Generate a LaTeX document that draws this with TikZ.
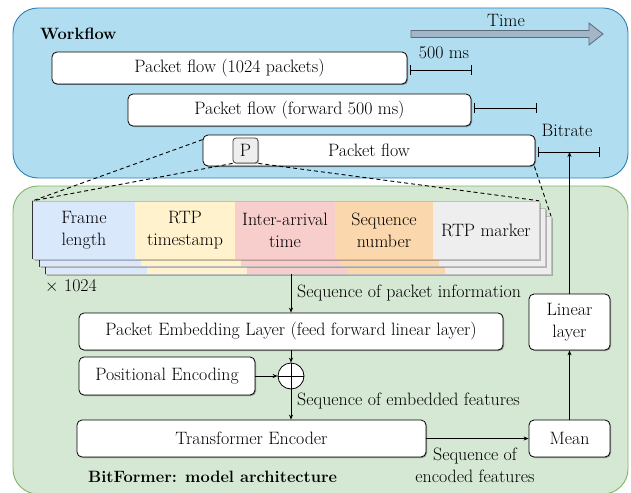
\documentclass[tikz,border=0pt]{standalone}
\usepackage{fontspec}
\usetikzlibrary{arrows.meta,shadows,calc}
\definecolor{bluebg}{HTML}{B1DDF0}
\definecolor{blueline}{HTML}{2D7FB8}
\definecolor{greenbg}{HTML}{D5E8D4}
\definecolor{greenline}{HTML}{82B366}
\definecolor{cA}{HTML}{DAE8FC}
\definecolor{cB}{HTML}{FFF2CC}
\definecolor{cC}{HTML}{F8CECC}
\definecolor{cD}{HTML}{FAD7AC}
\definecolor{cE}{HTML}{EEEEEE}
\definecolor{timefill}{HTML}{A3B6C7}
\definecolor{timeline}{HTML}{5A6B7B}
\newcommand\mainfs{\fontsize{17.9}{22}\selectfont}
\newcommand\boldfs{\fontsize{16.4}{22}\selectfont\bfseries}
\tikzset{
  wbox/.style={draw=black, fill=white, rounded corners=5pt, line width=0.8pt,
    inner sep=0pt, align=center,
    drop shadow={shadow xshift=1pt, shadow yshift=-1pt, opacity=0.35, fill=black}},
  pbox/.style={draw=black!75, fill=cE, rounded corners=3pt, line width=0.8pt,
    inner sep=0pt, minimum width=25pt, minimum height=25pt,
    drop shadow={shadow xshift=1pt, shadow yshift=-1pt, opacity=0.3, fill=black}},
  cell/.style={inner sep=0pt, align=center, minimum height=58pt},
  lbl/.style={inner sep=0pt, align=center},
  conn/.style={line width=0.8pt, -{Stealth[length=5pt,width=4pt]}},
  zoomline/.style={line width=0.9pt, dash pattern=on 4pt off 3pt},
  interval/.style={line width=0.9pt, {Bar[width=10pt]}-{Bar[width=10pt]}},
}
\begin{document}
\begin{tikzpicture}[x=1pt,y=-1pt,font=\mainfs]
\useasboundingbox (0,0) rectangle (631,492);
\begin{scope}
\clip (0,0) rectangle (631,492);
% panels
\draw[fill=bluebg, draw=blueline, line width=0.9pt, rounded corners=25pt] (13,8) rectangle (628,178);
\draw[fill=greenbg, draw=greenline, line width=0.9pt, rounded corners=25pt] (13,186) rectangle (628,494);
\end{scope}

% workflow part
\node[lbl, anchor=west, font=\boldfs] (wf) at (40,34) {Workflow};
\draw[fill=timefill, draw=timeline, line width=0.8pt]
  (411,30.5) -- (589,30.5) -- (589,23) -- (603,34) -- (589,45) -- (589,37.5) -- (411,37.5) -- cycle;
\node[lbl] (time) at (506,20) {Time};

\node[wbox, minimum width=355pt, minimum height=32pt] (f1) at (229.5,68) {Packet flow (1024 packets)};
\node[wbox, minimum width=343pt, minimum height=32pt] (f2) at (299.5,110) {Packet flow (forward 500 ms)};
\node[wbox, minimum width=332pt, minimum height=31pt] (f3) at (369,150.5) {Packet flow};
\node[pbox] (p) at (245.5,150.5) {P};

\coordinate (b1s) at (410,70);  \coordinate (b1e) at (472,70);
\coordinate (b2s) at (474,108); \coordinate (b2e) at (537,108);
\coordinate (b3s) at (538,152); \coordinate (b3e) at (600,152);
\coordinate (b3m) at (569.5,152);
\draw[interval] (b1s) -- (b1e);
\draw[interval] (b2s) -- (b2e);
\draw[interval] (b3s) -- (b3e);
\node[lbl] (ms) at (444,53) {500 ms};
\node[lbl] (br) at (567,130) {Bitrate};

% packet information table (stacked)
\foreach \dx/\dy in {12/15, 6/7.5}{
  \begin{scope}[shift={(\dx,\dy)}]
    \fill[black, opacity=0.25] (34.5,202.5) rectangle (540.5,260.5);
    \fill[cA] (33,201) rectangle (135,259);
    \fill[cB] (135,201) rectangle (235,259);
    \fill[cC] (235,201) rectangle (335,259);
    \fill[cD] (335,201) rectangle (433,259);
    \fill[cE] (433,201) rectangle (539,259);
    \draw[black!25, line width=0.6pt] (33,201) rectangle (539,259);
    \draw[black!80, line width=0.8pt] (33,201) -- (33,259);
  \end{scope}
}
\fill[black, opacity=0.25] (34.5,202.5) rectangle (540.5,260.5);
\node[cell, fill=cA, minimum width=102pt] (c1) at (84,230) {Frame\\length};
\node[cell, fill=cB, minimum width=100pt] (c2) at (185,230) {RTP\\timestamp};
\node[cell, fill=cC, minimum width=100pt] (c3) at (285,230) {Inter-arrival\\time};
\node[cell, fill=cD, minimum width=98pt] (c4) at (384,230) {Sequence\\number};
\node[cell, fill=cE, minimum width=106pt] (c5) at (486,230) {RTP marker};
\draw[black!25, line width=0.6pt] (c1.north west) -- (c5.north east) -- (c5.south east) -- (c1.south west);
\draw[black!80, line width=0.8pt] (c1.north west) -- (c1.south west);
\coordinate (l3ne) at (551,216);
\coordinate (tbot) at (291,274);

% zoom lines
\draw[zoomline] ([yshift=-5pt]f3.north west) -- (c1.north west);
\draw[zoomline] (p.south west) -- (c1.north west);
\draw[zoomline] (p.south east) -- (c5.north east);
\draw[zoomline] ([xshift=-1pt]f3.south east) -- (l3ne);

\node[lbl, anchor=west] (x1024) at (45,286) {$\times$ 1024};

% model
\node[wbox, minimum width=424pt, minimum height=37pt] (emb) at (291,331.5) {Packet Embedding Layer (feed forward linear layer)};
\node[wbox, minimum width=176pt, minimum height=38pt] (pos) at (167,376) {Positional Encoding};
\node[draw=black, fill=white, circle, line width=0.8pt, minimum size=26pt, inner sep=0pt] (plus) at (291,376) {};
\draw[line width=0.8pt] (plus.north) -- (plus.south) (plus.west) -- (plus.east);
\node[wbox, minimum width=349pt, minimum height=37pt] (trans) at (251.5,438.5) {Transformer Encoder};
\node[wbox, minimum width=81pt, minimum height=37pt] (mean) at (569.5,438.5) {Mean};
\node[wbox, minimum width=81pt, minimum height=56pt] (lin) at (569.5,322) {Linear\\layer};

\draw[conn] (tbot) -- (emb.north);
\draw[conn] (emb.south) -- (plus.north);
\draw[conn] (pos.east) -- (plus.west);
\draw[conn] (plus.south) -- (plus.south |- trans.north);
\draw[conn] (trans.east) -- (mean.west);
\draw[conn] (mean.north) -- (lin.south);
\draw[conn] (lin.north) -- (b3m);

\node[lbl, anchor=west] (l1) at (297,293) {Sequence of packet information};
\node[lbl, anchor=west] (l2) at (297,401) {Sequence of embedded features};
\node[lbl] (l3) at (475,465) {Sequence of\\encoded features};
\node[lbl, anchor=west, font=\boldfs] (arch) at (88,477) {BitFormer: model architecture};
\end{tikzpicture}
\end{document}
